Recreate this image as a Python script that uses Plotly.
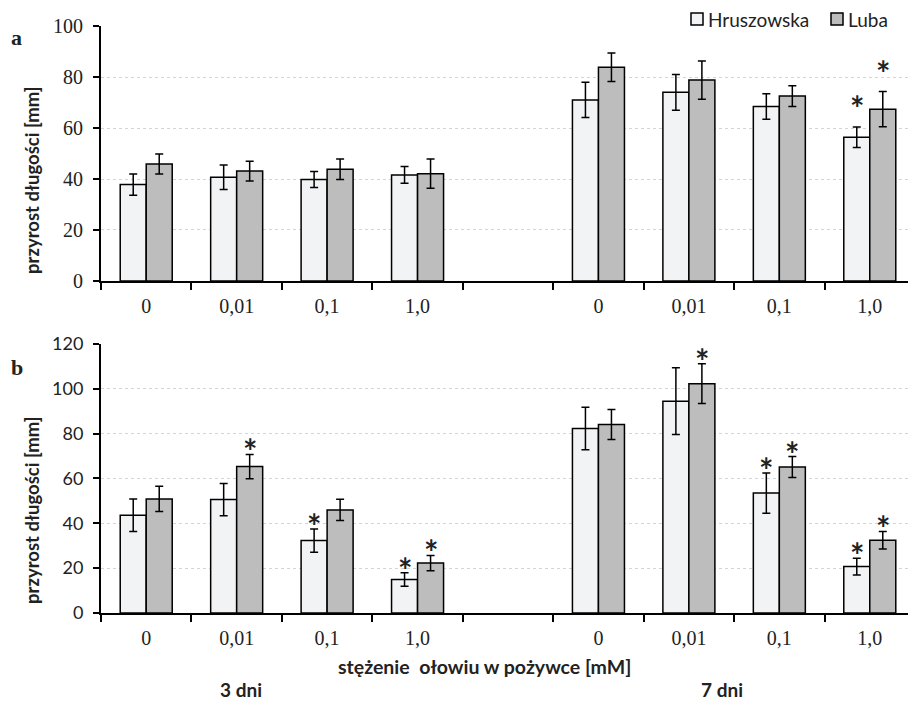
import plotly.graph_objects as go

# ---------------- data ----------------
conc_labels = ["0", "0,01", "0,1", "1,0"]
slot_pos = [0, 1, 2, 3, 5, 6, 7, 8]          # 3 dni: 0-3, 7 dni: 5-8
tick_text = conc_labels + conc_labels

# panel a
a_hrusz = [37.8, 40.7, 39.8, 41.6, 71.0, 74.0, 68.4, 56.4]
a_hrusz_err = [4.2, 4.8, 3.1, 3.3, 6.9, 7.0, 5.0, 4.0]
a_luba = [45.9, 43.1, 43.8, 42.1, 83.8, 78.8, 72.5, 67.4]
a_luba_err = [3.9, 3.9, 4.0, 5.7, 5.6, 7.5, 4.1, 6.9]
a_hrusz_sig = [0, 0, 0, 0, 0, 0, 0, 1]
a_luba_sig = [0, 0, 0, 0, 0, 0, 0, 1]

# panel b
b_hrusz = [43.6, 50.6, 32.3, 14.9, 82.3, 94.5, 53.5, 20.7]
b_hrusz_err = [7.3, 7.2, 5.2, 3.0, 9.5, 14.9, 9.0, 3.7]
b_luba = [50.9, 65.3, 46.0, 22.3, 84.1, 102.3, 65.1, 32.5]
b_luba_err = [5.6, 5.4, 4.7, 3.4, 6.7, 8.9, 4.7, 3.9]
b_hrusz_sig = [0, 0, 1, 1, 0, 0, 1, 1]
b_luba_sig = [0, 1, 0, 1, 0, 1, 1, 1]

series_names = ["Hruszowska", "Luba"]
series_colors = ["#f2f3f5", "#bdbdbd"]

SANS = "Lato"
SERIF = "Liberation Serif"
TXT = "#222"

fig = go.Figure()

panels = [
    ("x", "y", [a_hrusz, a_luba], [a_hrusz_err, a_luba_err], [a_hrusz_sig, a_luba_sig], -3),
    ("x2", "y2", [b_hrusz, b_luba], [b_hrusz_err, b_luba_err], [b_hrusz_sig, b_luba_sig], -19),
]

BW = (1 - 0.425) / 2
for xa, ya, vals, errs, sigs, star_shift in panels:
    for i in range(2):
        fig.add_trace(go.Bar(
            x=slot_pos, y=vals[i], name=series_names[i], xaxis=xa, yaxis=ya,
            offsetgroup=str(i), showlegend=False,
            marker=dict(color=series_colors[i], line=dict(color="black", width=1.5)),
            error_y=dict(type="data", array=errs[i], color="black", thickness=1.5, width=4),
        ))
        off = (i - 0.5) * BW
        for p, v, e, s in zip(slot_pos, vals[i], errs[i], sigs[i]):
            if s:
                fig.add_annotation(x=p + off, y=v + e, xref=xa, yref=ya, text="*",
                                   showarrow=False, yanchor="bottom", yshift=star_shift,
                                   font=dict(family=SANS, size=34, color=TXT, weight="bold"))

axis_common = dict(
    range=[-0.5, 8.5], tickmode="array", tickvals=slot_pos, ticktext=tick_text,
    ticks="outside", ticklen=6, tickcolor="rgba(0,0,0,0)",
    tickfont=dict(family=SERIF, size=20, color=TXT),
    showline=True, linecolor="black", linewidth=2, showgrid=False, zeroline=False,
    minor=dict(tickmode="array", tickvals=[k - 0.5 for k in range(10)],
               ticks="outside", ticklen=7, tickcolor="black", tickwidth=1.5),
)
y_common = dict(
    showline=True, linecolor="black", linewidth=2, ticks="outside", ticklen=6,
    tickcolor="black", tickwidth=1.5, showgrid=True, gridcolor="#d4d4d4",
    griddash="dot", gridwidth=1, zeroline=False, ticklabelstandoff=6,
)

# page has an 8px body margin, so the figure is offset by 8px
fig.update_layout(
    width=908, height=693,
    margin=dict(l=93, r=1, t=18, b=88, autoexpand=False),
    plot_bgcolor="white", paper_bgcolor="white",
    barmode="group", bargap=0.425, bargroupgap=0,
    showlegend=False,
    xaxis=dict(domain=[0, 1], anchor="y", **axis_common),
    xaxis2=dict(domain=[0, 1], anchor="y2", **axis_common),
    yaxis=dict(domain=[0.5656, 1.0], range=[0, 100], tickvals=[0, 20, 40, 60, 80, 100],
               tickfont=dict(family=SERIF, size=20, color=TXT), **y_common),
    yaxis2=dict(domain=[0, 0.4583], range=[0, 120], tickvals=[0, 20, 40, 60, 80, 100, 120],
                tickfont=dict(family=SANS, size=18, color=TXT), **y_common),
)

W = 814.0
H = 587.0
def px_x(px):
    return (px - 101) / W
def px_y(py):
    return (613 - py) / H

# manual legend
leg_box_x = [691, 831]
for i in range(2):
    fig.add_shape(type="rect", xref="paper", yref="paper",
                  x0=px_x(leg_box_x[i]), x1=px_x(leg_box_x[i] + 12),
                  y0=px_y(25), y1=px_y(13),
                  fillcolor=series_colors[i], line=dict(color="black", width=1.5))
    fig.add_annotation(text=series_names[i], xref="paper", yref="paper",
                       x=px_x(leg_box_x[i] + 15), y=px_y(19), xanchor="left", yanchor="middle",
                       showarrow=False, font=dict(family=SANS, size=19, color=TXT))

ytitle = "przyrost długości [mm]"
for cy in (180, 510):
    fig.add_annotation(text=ytitle, textangle=-90, xref="paper", yref="paper",
                       x=px_x(32), y=px_y(cy), xanchor="center", yanchor="middle",
                       showarrow=False, font=dict(family=SANS, size=18.5, color=TXT, weight="bold"))
fig.add_annotation(text="a", xref="paper", yref="paper", x=px_x(16), y=px_y(37),
                   xanchor="center", yanchor="middle", showarrow=False,
                   font=dict(family=SERIF, size=22, color=TXT, weight="bold"))
fig.add_annotation(text="b", xref="paper", yref="paper", x=px_x(17), y=px_y(367),
                   xanchor="center", yanchor="middle", showarrow=False,
                   font=dict(family=SERIF, size=22, color=TXT, weight="bold"))
fig.add_annotation(text="stężenie\u00a0 ołowiu w pożywce [mM]", xref="paper", yref="paper",
                   x=px_x(484), y=px_y(666), xanchor="center", yanchor="middle", showarrow=False,
                   font=dict(family=SANS, size=19.5, color=TXT, weight="bold"))
fig.add_annotation(text="3 dni", xref="paper", yref="paper", x=px_x(241), y=px_y(689),
                   xanchor="center", yanchor="middle", showarrow=False,
                   font=dict(family=SANS, size=19, color=TXT, weight="bold"))
fig.add_annotation(text="7 dni", xref="paper", yref="paper", x=px_x(722), y=px_y(689),
                   xanchor="center", yanchor="middle", showarrow=False,
                   font=dict(family=SANS, size=19, color=TXT, weight="bold"))

fig.write_html("out.html")
